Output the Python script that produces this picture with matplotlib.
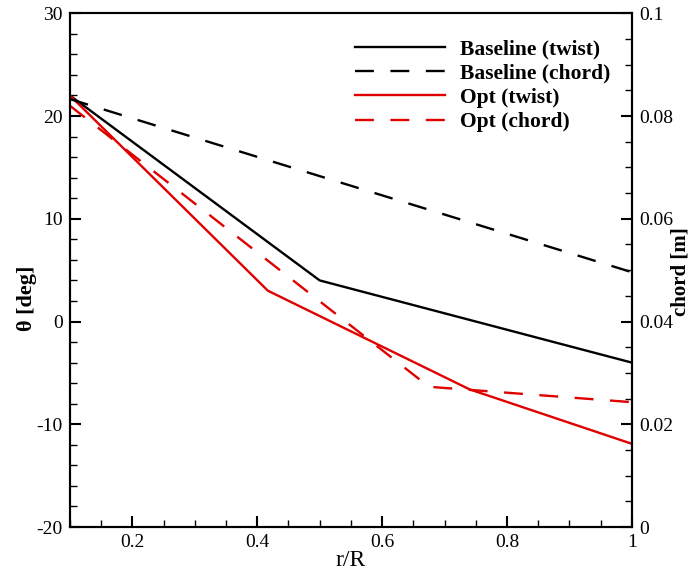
import matplotlib
matplotlib.use("Agg")
import matplotlib.pyplot as plt
from matplotlib.ticker import MultipleLocator, FuncFormatter

# Data
r_base_twist = [0.1, 0.5, 1.0]
base_twist = [22.0, 4.0, -4.0]

r_base_chord = [0.1, 0.5, 1.0]
base_chord = [0.0833, 0.0683, 0.0496]

r_opt_twist = [0.1, 0.417, 0.74, 1.0]
opt_twist = [22.0, 3.0, -6.6, -11.9]

r_opt_chord = [0.1, 0.675, 1.0]
opt_chord = [0.0820, 0.0273, 0.0243]

plt.rcParams['font.family'] = ['Liberation Serif', 'DejaVu Serif']
plt.rcParams['axes.unicode_minus'] = False

fig = plt.figure(figsize=(6.99, 5.76), dpi=100)
ax = fig.add_axes([0.1, 0.085, 0.804, 0.892])
ax2 = ax.twinx()

RED = '#e00000'
l1, = ax.plot(r_base_twist, base_twist, color='black', lw=1.7, label='Baseline (twist)')
l2, = ax2.plot(r_base_chord, base_chord, color='black', lw=1.7, dashes=(8, 7), label='Baseline (chord)')
l3, = ax.plot(r_opt_twist, opt_twist, color=RED, lw=1.7, label='Opt (twist)')
l4, = ax2.plot(r_opt_chord, opt_chord, color=RED, lw=1.7, dashes=(8, 7), label='Opt (chord)')

ax.set_xlim(0.1, 1.0)
ax.set_ylim(-20, 30)
ax2.set_ylim(0, 0.1)

fmt = FuncFormatter(lambda v, p: '%g' % round(v, 6))
ax.xaxis.set_major_locator(MultipleLocator(0.2))
ax.xaxis.set_minor_locator(MultipleLocator(0.05))
ax.yaxis.set_major_locator(MultipleLocator(10))
ax.yaxis.set_minor_locator(MultipleLocator(2))
ax2.yaxis.set_major_locator(MultipleLocator(0.02))
ax2.yaxis.set_minor_locator(MultipleLocator(0.005))
ax.xaxis.set_major_formatter(fmt)
ax.yaxis.set_major_formatter(fmt)
ax2.yaxis.set_major_formatter(fmt)

for a in (ax, ax2):
    for s in a.spines.values():
        s.set_linewidth(1.5)
    a.tick_params(which='major', direction='in', length=8, width=1.5, labelsize=14, pad=5)
    a.tick_params(which='minor', direction='in', length=5, width=1.0)

ax.set_xlabel('r/R', fontsize=17, labelpad=-1)
ax.set_ylabel('θ [deg]', fontsize=16, fontweight='bold')
ax2.set_ylabel('chord [m]', fontsize=15, fontweight='bold')
ax.yaxis.set_label_coords(-0.058, 0.445)
ax2.yaxis.set_label_coords(1.068, 0.497)

leg = ax.legend(handles=[l1, l2, l3, l4], loc='upper right', bbox_to_anchor=(0.985, 0.975),
                frameon=False, handlelength=4.2, handletextpad=0.7, labelspacing=0.2,
                borderaxespad=0.2, prop={'weight': 'bold', 'size': 15.5})

fig.savefig('out.png', dpi=100)
